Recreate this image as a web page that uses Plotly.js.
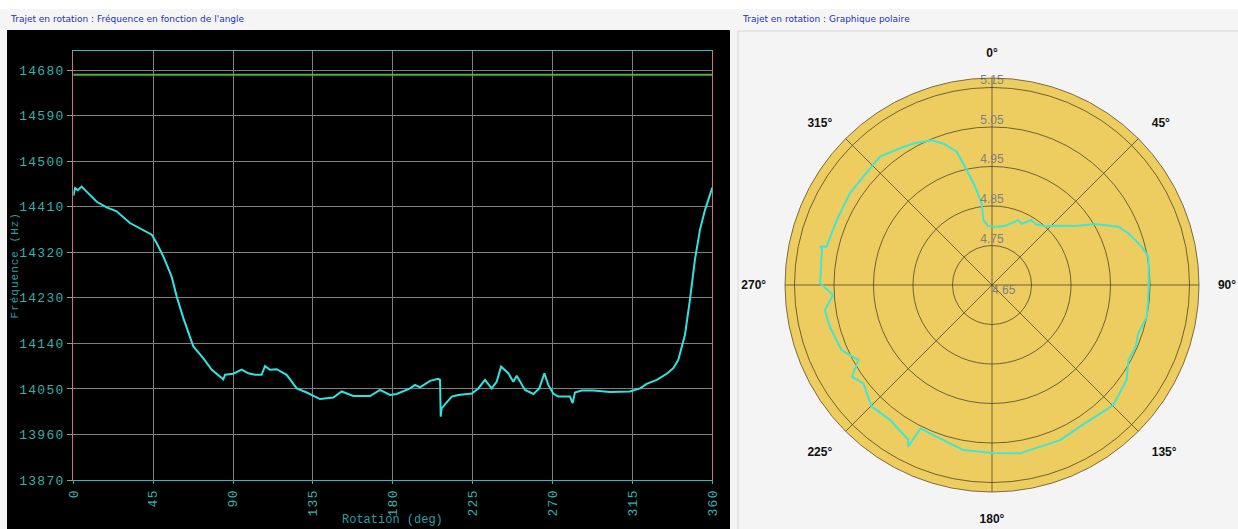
<!DOCTYPE html>
<html>
<head>
<meta charset="utf-8">
<script src="https://cdn.plot.ly/plotly-3.0.1.min.js"></script>
<style>
  html, body { margin: 0; padding: 0; background: #f5f5f5; }
  #chart { width: 1238px; height: 529px; }
  #chart .xtick text, #chart .ytick text { letter-spacing: 1.3px; }
  #chart .g-ytitle text { letter-spacing: 1px; }
</style>
</head>
<body>
<div id="chart"></div>
<script>
// Frequency versus rotation angle
const rotationDeg = [0, 1, 2.5, 4.7, 7.5, 13.2, 18.8, 24.4, 31.9, 37.6, 44.2, 47, 50.7, 55.4, 58.3, 62, 67.6,
  73.2, 78, 84.5, 85.5, 90.1, 94.9, 98.6, 102.4, 106.1, 108, 110.8, 114.6, 120.2, 125.9, 131.5, 139, 146.5,
  151.2, 157.7, 167.2, 172.8, 178.4, 182.2, 189.7, 192.5, 195.3, 201, 205.6, 206.6, 207, 207.5, 208.1, 213.2,
  216.9, 224.5, 228.2, 231.9, 235.7, 238.5, 241, 245.1, 247.9, 249.8, 254.5, 259.2, 262.5, 265.4, 267.6,
  270.4, 273.2, 279.8, 281.3, 282.6, 286.4, 293, 302.4, 313.6, 319.3, 323, 328.7, 334.3, 338, 340.8, 344.6,
  347.4, 350.2, 353, 355.9, 358.7, 360];
const freqHz = [14432, 14447, 14443, 14450, 14440, 14420, 14409, 14401, 14378, 14368, 14355, 14338, 14312, 14272,
  14232, 14190, 14134, 14111, 14088, 14069, 14078, 14080, 14088, 14081, 14078, 14078, 14095, 14088, 14089,
  14078, 14051, 14043, 14030, 14033, 14045, 14036, 14036, 14048, 14038, 14040, 14051, 14058, 14053, 14066,
  14070, 14068, 13995, 14012, 14014, 14035, 14038, 14041, 14051, 14068, 14051, 14064, 14094, 14081, 14064,
  14076, 14048, 14040, 14051, 14081, 14058, 14041, 14035, 14035, 14022, 14043, 14047, 14047, 14044, 14045,
  14051, 14060, 14068, 14080, 14091, 14107, 14157, 14226, 14305, 14364, 14404, 14434, 14448];
const referenceHz = 14671;
const freqTicks = [13870, 13960, 14050, 14140, 14230, 14320, 14410, 14500, 14590, 14680];
const angleTicks = [0, 45, 90, 135, 180, 225, 270, 315, 360];

// Polar view of the same rotation
const polarDeg = [0, 6, 14, 22, 26, 31, 36, 42, 48.3, 54.6, 59.4, 65.2, 69.2, 75.6, 79.7, 84, 89.4, 95.5, 101.6,
  108.3, 113, 118.8, 125.2, 134.7, 148.2, 156.3, 170.6, 179.6, 189.9, 200, 206.5, 207.4, 208.5, 217.1, 224.7,
  232.6, 236.8, 240.7, 246.6, 255.6, 261.5, 266.4, 270.6, 282, 282.6, 283, 292.7, 302.9, 310, 318.9, 326.1,
  330.9, 337.4, 341, 345.2, 347.6, 350.2, 352.8, 352.4, 356, 360];
const polarR = [4.798, 4.798, 4.806, 4.827, 4.822, 4.842, 4.840, 4.850, 4.875, 4.908, 4.953, 5.002, 5.019, 5.041,
  5.052, 5.049, 5.047, 5.047, 5.050, 5.040, 5.046, 5.044, 5.067, 5.082, 5.072, 5.079, 5.082, 5.075, 5.074,
  5.059, 5.056, 5.111, 5.095, 5.078, 5.083, 5.060, 5.074, 5.038, 5.065, 5.074, 5.078, 5.053, 5.085, 5.090,
  5.096, 5.080, 5.076, 5.078, 5.076, 5.081, 5.067, 5.060, 5.047, 5.029, 4.999, 4.948, 4.903, 4.858, 4.816,
  4.800, 4.798];
const ringVals = [4.65, 4.75, 4.85, 4.95, 5.05, 5.15];
const ringLabels = ['4.65', '4.75', '4.85', '4.95', '5.05', '5.15'];
const compassTicks = [0, 45, 90, 135, 180, 225, 270, 315];

const W = 1238, H = 529;
const px = v => v / W;
const py = v => 1 - v / H;

const mono = 'Liberation Mono, DejaVu Sans Mono, monospace';

const traces = [
  {
    type: 'scatter', mode: 'lines',
    x: rotationDeg, y: freqHz,
    line: { color: '#2fe3e3', width: 2 },
    xaxis: 'x', yaxis: 'y', hoverinfo: 'skip'
  },
  {
    type: 'scatterpolar', mode: 'lines',
    theta: polarDeg, r: polarR,
    line: { color: '#3fe6d4', width: 2 },
    subplot: 'polar', hoverinfo: 'skip'
  },
  {
    type: 'scatterpolar', mode: 'text',
    r: ringVals, theta: ringVals.map(() => 0),
    text: ringLabels,
    textposition: ringVals.map((v, i) => i === 0 ? 'bottom right' : 'top center'),
    textfont: { family: 'Liberation Sans, Arial, sans-serif', size: 12, color: '#808080' },
    subplot: 'polar', hoverinfo: 'skip', cliponaxis: false
  }
];

const layout = {
  width: W, height: H,
  margin: { l: 0, r: 0, t: 0, b: 0 },
  paper_bgcolor: '#f5f5f5',
  plot_bgcolor: '#000000',
  showlegend: false,
  xaxis: {
    domain: [px(73.3), px(712.3)],
    range: [0, 360],
    tickmode: 'array', tickvals: angleTicks,
    ticktext: angleTicks.map(String),
    tickangle: -90,
    tickfont: { family: mono, size: 13, color: '#34b0b0' },
    ticks: 'outside', ticklen: 3, tickcolor: '#34b0b0',
    showgrid: true, gridcolor: '#7f7f7f', gridwidth: 1,
    showline: true, linecolor: '#38b8bc', linewidth: 1, mirror: true,
    zeroline: false
  },
  yaxis: {
    domain: [py(480), py(50.5)],
    range: [13870, 14719],
    tickmode: 'array', tickvals: freqTicks,
    ticktext: freqTicks.map(String),
    tickfont: { family: mono, size: 13, color: '#34b0b0' },
    ticks: 'outside', ticklen: 5, tickcolor: '#9a9a9a',
    showgrid: true, gridcolor: '#7f7f7f', gridwidth: 1,
    showline: true, linecolor: '#c97a6c', linewidth: 1, mirror: true,
    zeroline: false,
    title: { text: 'Fréquence (Hz)', font: { family: mono, size: 11, color: '#2c9ea4' }, standoff: 4 }
  },
  polar: {
    domain: { x: [px(785), px(1199)], y: [py(492), py(78)] },
    bgcolor: '#edcd60',
    angularaxis: {
      rotation: 90, direction: 'clockwise',
      tickmode: 'array', tickvals: compassTicks,
      ticktext: compassTicks.map(a => a + '°'),
      tickfont: { family: 'Liberation Sans, Arial, sans-serif', size: 12, color: '#111111', weight: 'bold' },
      ticks: 'outside', ticklen: 16, tickcolor: 'rgba(0,0,0,0)',
      showgrid: true, gridcolor: 'rgba(70,60,40,0.75)', gridwidth: 1,
      showline: true, linecolor: 'rgba(110,95,60,0.9)', linewidth: 1
    },
    radialaxis: {
      range: [4.65, 5.174],
      tickmode: 'array', tickvals: ringVals.slice(1),
      showticklabels: false, ticks: '',
      showgrid: true, gridcolor: 'rgba(70,60,40,0.75)', gridwidth: 1,
      showline: false, angle: 90
    }
  },
  shapes: [
    // light top strip
    { type: 'rect', xref: 'paper', yref: 'paper', x0: 0, x1: 1, y0: py(9), y1: 1,
      fillcolor: '#ffffff', line: { width: 0 }, layer: 'below' },
    // dark panel behind the frequency plot
    { type: 'rect', xref: 'paper', yref: 'paper', x0: px(7), x1: px(730), y0: 0, y1: py(30),
      fillcolor: '#000000', line: { width: 0 }, layer: 'below' },
    // framed panel behind the polar plot
    { type: 'rect', xref: 'paper', yref: 'paper', x0: px(738), x1: px(1240), y0: -0.01, y1: py(31),
      fillcolor: '#f4f4f4', line: { color: '#d6d6d6', width: 1 }, layer: 'below' },
    // reference frequency line
    { type: 'line', xref: 'x domain', yref: 'y', x0: 0, x1: 1, y0: referenceHz, y1: referenceHz,
      line: { color: '#4fb13c', width: 2 } }
  ],
  annotations: [
    { text: "Trajet en rotation : Fréquence en fonction de l'angle", xref: 'paper', yref: 'paper',
      x: px(8), y: py(19), xanchor: 'left', yanchor: 'middle', showarrow: false,
      font: { family: 'DejaVu Sans, sans-serif', size: 9, color: '#2233bb' } },
    { text: 'Trajet en rotation : Graphique polaire', xref: 'paper', yref: 'paper',
      x: px(740), y: py(19), xanchor: 'left', yanchor: 'middle', showarrow: false,
      font: { family: 'DejaVu Sans, sans-serif', size: 9, color: '#2233bb' } },
    // x-axis title, at the lower edge of the dark panel
    { text: 'Rotation (deg)', xref: 'x domain', yref: 'paper',
      x: 0.5, y: py(520), xanchor: 'center', yanchor: 'middle', showarrow: false,
      font: { family: mono, size: 12, color: '#2c9ea4' } }
  ]
};

Plotly.newPlot('chart', traces, layout, { displayModeBar: false, staticPlot: true });
</script>
</body>
</html>
